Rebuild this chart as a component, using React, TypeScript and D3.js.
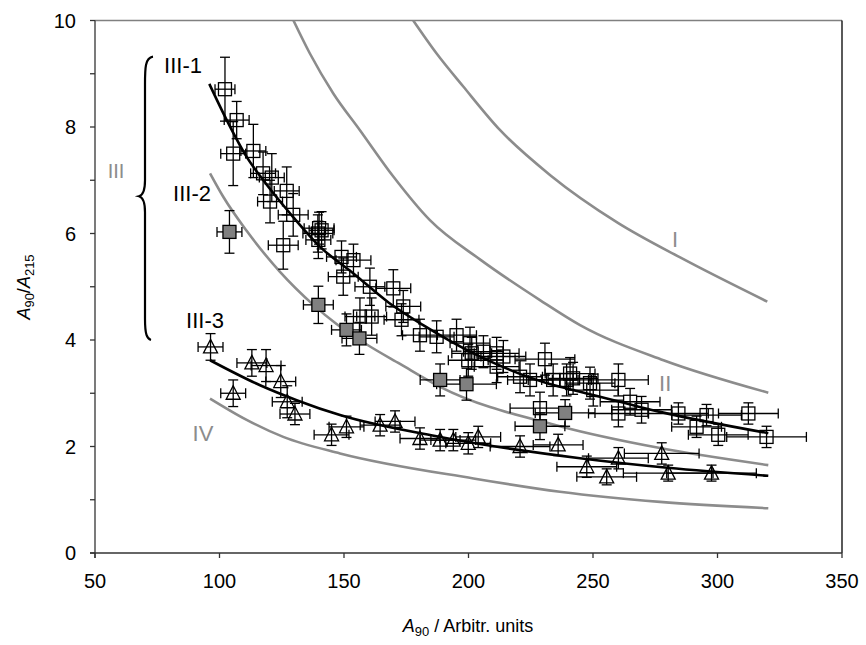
import * as d3 from "d3";

// axis ticks
const xTicks = [50, 100, 150, 200, 250, 300, 350];
const yTicks = [0, 2, 4, 6, 8, 10];
const yMinorTicks = [1, 3, 5, 7, 9];

// [A90, A90/A215, x error, y error]
const openSquares: number[][] = [
  [102.2, 8.71, 4, 0.6],
  [106.9, 8.13, 5, 0.35],
  [105.5, 7.5, 5, 0.6],
  [113.6, 7.55, 5, 0.5],
  [117.5, 7.13, 5, 0.4],
  [121.0, 7.05, 5, 0.45],
  [127.0, 6.8, 5, 0.45],
  [120.3, 6.6, 5, 0.4],
  [129.6, 6.35, 6, 0.4],
  [125.6, 5.78, 6, 0.45],
  [140.0, 6.1, 6, 0.3],
  [139.5, 6.0, 6, 0.35],
  [141.0, 6.06, 5, 0.35],
  [139.7, 5.88, 5, 0.35],
  [149.0, 5.56, 6, 0.3],
  [153.8, 5.5, 7, 0.3],
  [149.7, 5.19, 6, 0.35],
  [160.4, 5.0, 6, 0.35],
  [169.8, 4.97, 7, 0.35],
  [156.4, 4.44, 6, 0.35],
  [161.1, 4.44, 6, 0.35],
  [173.8, 4.63, 7, 0.3],
  [173.1, 4.38, 7, 0.3],
  [180.5, 4.09, 7, 0.3],
  [187.2, 4.06, 7, 0.3],
  [195.2, 4.09, 8, 0.3],
  [200.6, 3.94, 8, 0.3],
  [201.3, 3.75, 8, 0.3],
  [199.9, 3.62, 8, 0.3],
  [206.0, 3.78, 8, 0.3],
  [211.3, 3.75, 9, 0.3],
  [214.0, 3.69, 9, 0.3],
  [211.3, 3.5, 9, 0.3],
  [230.7, 3.64, 12, 0.3],
  [220.7, 3.31, 9, 0.3],
  [224.7, 3.25, 9, 0.3],
  [234.0, 3.25, 10, 0.3],
  [239.4, 3.25, 10, 0.3],
  [242.0, 3.28, 10, 0.3],
  [228.7, 2.72, 12, 0.3],
  [240.8, 3.37, 10, 0.3],
  [248.8, 3.19, 10, 0.3],
  [250.1, 3.06, 10, 0.3],
  [260.2, 3.25, 12, 0.3],
  [264.9, 2.84, 12, 0.25],
  [269.5, 2.69, 12, 0.25],
  [260.2, 2.62, 12, 0.25],
  [284.3, 2.62, 12, 0.2],
  [295.6, 2.59, 14, 0.2],
  [312.4, 2.62, 12, 0.2],
  [291.6, 2.37, 10, 0.2],
  [300.3, 2.22, 12, 0.2],
  [319.7, 2.18, 16, 0.2],
];

const filledSquares: number[][] = [
  [104.0, 6.03, 5, 0.4],
  [139.7, 4.66, 6, 0.35],
  [151.0, 4.19, 6, 0.3],
  [156.2, 4.03, 7, 0.3],
  [188.6, 3.25, 8, 0.3],
  [199.2, 3.17, 12, 0.3],
  [228.7, 2.38, 10, 0.25],
  [238.8, 2.63, 12, 0.25],
];

const triangles: number[][] = [
  [96.4, 3.87, 5, 0.25],
  [113.0, 3.57, 6, 0.25],
  [118.7, 3.52, 6, 0.3],
  [124.6, 3.22, 6, 0.3],
  [105.5, 3.0, 5, 0.25],
  [127.2, 2.84, 6, 0.3],
  [130.3, 2.61, 6, 0.2],
  [145.0, 2.22, 7, 0.2],
  [151.0, 2.37, 7, 0.2],
  [164.5, 2.4, 8, 0.2],
  [170.5, 2.47, 8, 0.2],
  [180.5, 2.15, 8, 0.2],
  [188.6, 2.12, 8, 0.2],
  [193.9, 2.12, 9, 0.2],
  [199.9, 2.06, 9, 0.2],
  [203.9, 2.18, 9, 0.2],
  [220.7, 2.0, 12, 0.2],
  [236.0, 2.03, 10, 0.2],
  [247.5, 1.62, 12, 0.2],
  [255.5, 1.43, 12, 0.15],
  [260.2, 1.78, 12, 0.2],
  [277.6, 1.87, 15, 0.2],
  [280.2, 1.5, 18, 0.15],
  [297.6, 1.5, 18, 0.15],
];

// model curves
const curveI = [[177.8, 10], [187.2, 9.38], [197.9, 8.76], [212.7, 7.94], [232.7, 7.1], [260, 6.2], [285, 5.55], [320, 4.72]];
const curveII = [[129.7, 10], [136.3, 9.38], [145.7, 8.63], [156.4, 7.94], [169.8, 7.07], [184.5, 6.25], [205, 5.5], [228.7, 4.75], [244.8, 4.28], [278.3, 3.62], [320.4, 3.01]];
const curveIII1 = [[95.9, 8.81], [102.9, 8.13], [110.9, 7.44], [117.6, 7.0], [128.3, 6.38], [140.4, 5.75], [153.8, 5.25], [168, 4.7], [181.8, 4.28], [202, 3.75], [236.7, 3.12], [244.8, 3.03], [276.9, 2.65], [320.4, 2.25]];
const curveIII2 = [[96.2, 7.13], [101.5, 6.69], [110.9, 6.05], [124.3, 5.28], [137.7, 4.66], [147, 4.3], [159, 3.92], [172.5, 3.55], [188.6, 3.12], [236.7, 2.38], [276.9, 1.97], [320.4, 1.65]];
const curveIII3 = [[96.2, 3.62], [116.3, 3.15], [131, 2.87], [148.4, 2.59], [188.6, 2.18], [244.8, 1.78], [280, 1.6], [320.4, 1.45]];
const curveIV = [[96.2, 2.9], [110.9, 2.5], [125.6, 2.18], [148.4, 1.87], [202, 1.4], [236.7, 1.15], [276.9, 0.96], [320.4, 0.84]];

const GRAY = "#8c8c8c";
const FONT = "Liberation Sans, Arial, sans-serif";

export default function App() {
  const width = 866;
  const height = 645;
  const x = d3.scaleLinear().domain([50, 350]).range([95, 842]);
  const y = d3.scaleLinear().domain([0, 10]).range([553, 20.5]);
  const line = d3
    .line<number[]>()
    .x(d => x(d[0]))
    .y(d => y(d[1]))
    .curve(d3.curveMonotoneX);

  const errorBars = (pts: number[][], key: string) =>
    pts.map((d, i) => {
      const cx = x(d[0]);
      const cy = y(d[1]);
      const x0 = x(d[0] - d[2]);
      const x1 = x(d[0] + d[2]);
      const y0 = y(d[1] + d[3]);
      const y1 = y(d[1] - d[3]);
      return (
        <g key={key + i} stroke="#000" strokeWidth={1.3}>
          <line x1={x0} x2={x1} y1={cy} y2={cy} />
          <line x1={x0} x2={x0} y1={cy - 5} y2={cy + 5} />
          <line x1={x1} x2={x1} y1={cy - 5} y2={cy + 5} />
          <line x1={cx} x2={cx} y1={y0} y2={y1} />
          <line x1={cx - 5} x2={cx + 5} y1={y0} y2={y0} />
          <line x1={cx - 5} x2={cx + 5} y1={y1} y2={y1} />
        </g>
      );
    });

  const labelStyle = { fontFamily: FONT, fontSize: 22 };
  const half = 6.5;

  return (
    <svg
      width={width}
      height={height}
      style={{ position: "absolute", left: 0, top: 0, background: "#fff" }}
    >
      <defs>
        <clipPath id="plot">
          <rect x={95} y={20.5} width={747} height={532.5} />
        </clipPath>
      </defs>

      {/* frame */}
      <line x1={95} x2={842} y1={20.5} y2={20.5} stroke="#808080" strokeWidth={1.3} />
      <line x1={842} x2={842} y1={20.5} y2={553} stroke="#000" strokeWidth={1.3} />

      {/* y axis */}
      <line x1={95} x2={95} y1={20.5} y2={558} stroke="#333" strokeWidth={1.3} />
      {yTicks.concat(yMinorTicks).map(t => (
        <line key={"yt" + t} x1={90} x2={95} y1={y(t)} y2={y(t)} stroke="#333" strokeWidth={1.3} />
      ))}
      {yTicks.map(t => (
        <text key={"yl" + t} x={76} y={y(t) + 7} textAnchor="end" style={{ fontFamily: FONT, fontSize: 20 }}>
          {t}
        </text>
      ))}

      {/* x axis */}
      <line x1={90} x2={842} y1={553} y2={553} stroke="#333" strokeWidth={1.3} />
      {xTicks.map(t => (
        <line key={"xt" + t} x1={x(t)} x2={x(t)} y1={553} y2={558} stroke="#333" strokeWidth={1.3} />
      ))}
      {xTicks.map(t => (
        <text key={"xl" + t} x={x(t)} y={588} textAnchor="middle" style={{ fontFamily: FONT, fontSize: 20 }}>
          {t}
        </text>
      ))}

      {/* axis titles */}
      <text x={468} y={632} textAnchor="middle" style={{ fontFamily: FONT, fontSize: 18 }}>
        <tspan fontStyle="italic">A</tspan>
        <tspan fontSize={13} dy={4}>90</tspan>
        <tspan dy={-4}> / Arbitr. units</tspan>
      </text>
      <text transform="translate(30,287) rotate(-90)" textAnchor="middle" style={{ fontFamily: FONT, fontSize: 18 }}>
        <tspan fontStyle="italic">A</tspan>
        <tspan fontSize={13} dy={4}>90</tspan>
        <tspan dy={-4}>/</tspan>
        <tspan fontStyle="italic">A</tspan>
        <tspan fontSize={13} dy={4}>215</tspan>
      </text>

      {/* model curves */}
      <g clipPath="url(#plot)" fill="none" strokeLinejoin="round">
        <path d={line(curveI as any) || ""} stroke={GRAY} strokeWidth={2.6} />
        <path d={line(curveII as any) || ""} stroke={GRAY} strokeWidth={2.6} />
        <path d={line(curveIII2 as any) || ""} stroke={GRAY} strokeWidth={2.6} />
        <path d={line(curveIV as any) || ""} stroke={GRAY} strokeWidth={2.6} />
      </g>

      {/* error bars */}
      {errorBars(openSquares, "eo")}
      {errorBars(filledSquares, "ef")}
      {errorBars(triangles, "et")}

      {/* markers */}
      {openSquares.map((d, i) => (
        <rect key={"os" + i} x={x(d[0]) - half} y={y(d[1]) - half} width={2 * half} height={2 * half} fill="none" stroke="#000" strokeWidth={1.3} />
      ))}
      {filledSquares.map((d, i) => (
        <rect key={"fs" + i} x={x(d[0]) - half} y={y(d[1]) - half} width={2 * half} height={2 * half} fill="#808080" stroke="#000" strokeWidth={1.3} />
      ))}
      {triangles.map((d, i) => {
        const cx = x(d[0]);
        const cy = y(d[1]);
        return (
          <path key={"tr" + i} d={`M${cx},${cy - 7.5}L${cx + 7},${cy + 6}L${cx - 7},${cy + 6}Z`} fill="none" stroke="#000" strokeWidth={1.3} />
        );
      })}

      {/* fit lines */}
      <g fill="none" stroke="#000" strokeWidth={2.6} strokeLinejoin="round">
        <path d={line(curveIII1 as any) || ""} />
        <path d={line(curveIII3 as any) || ""} />
      </g>

      {/* brace */}
      <path
        d={`M153,${y(9.32)} C145,${y(9.3)} 145,${y(9.1)} 145,${y(8.8)} L145,${y(7.0)} C145,${y(6.8)} 143,${y(6.72)} 139,${y(6.7)} C143,${y(6.68)} 145,${y(6.6)} 145,${y(6.4)} L145,${y(4.4)} C145,${y(4.1)} 147,${y(4.02)} 151,${y(4.0)}`}
        fill="none"
        stroke="#000"
        strokeWidth={2.2}
      />

      {/* labels */}
      <text x={183} y={73} textAnchor="middle" style={labelStyle}>III-1</text>
      <text x={192} y={201} textAnchor="middle" style={labelStyle}>III-2</text>
      <text x={205} y={328} textAnchor="middle" style={labelStyle}>III-3</text>
      <text x={116} y={178} textAnchor="middle" style={{ ...labelStyle, fontSize: 20 }} fill={GRAY}>III</text>
      <text x={203} y={441} textAnchor="middle" style={labelStyle} fill={GRAY}>IV</text>
      <text x={x(283)} y={y(5.9) + 8} textAnchor="middle" style={labelStyle} fill={GRAY}>I</text>
      <text x={x(279)} y={y(3.2) + 8} textAnchor="middle" style={labelStyle} fill={GRAY}>II</text>
    </svg>
  );
}
